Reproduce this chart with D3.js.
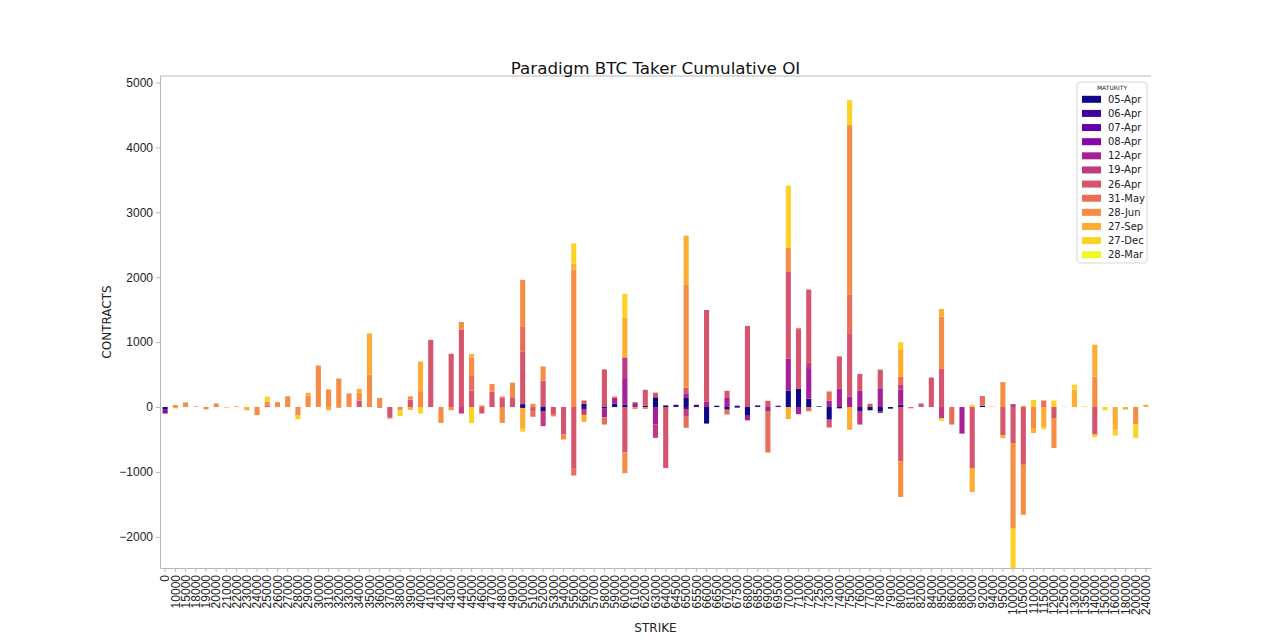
<!DOCTYPE html>
<html>
<head>
<meta charset="utf-8">
<script src="https://cdn.jsdelivr.net/npm/d3@7"></script>
<style>
  body { margin: 0; background: #fff; }
  svg { font-family: "DejaVu Sans", sans-serif; }
</style>
</head>
<body>
<div id="chart"></div>
<script>
// strikes on the x axis (categorical, as in the source plot)
const strikes = [0, 10000, 15000, 18000, 19000, 20000, 21000, 22000, 23000, 24000,
  25000, 26000, 27000, 28000, 29000, 30000, 31000, 32000, 33000, 34000,
  35000, 36000, 37000, 38000, 39000, 40000, 41000, 42000, 43000, 44000,
  45000, 46000, 47000, 48000, 49000, 50000, 51000, 52000, 53000, 54000,
  55000, 56000, 57000, 58000, 59000, 60000, 61000, 62000, 63000, 64000,
  64500, 65000, 65500, 66000, 66500, 67000, 67500, 68000, 68500, 69000,
  69500, 70000, 71000, 72000, 72500, 73000, 74000, 75000, 76000, 77000,
  78000, 79000, 80000, 81000, 82000, 84000, 85000, 86000, 88000, 90000,
  92000, 94000, 95000, 100000, 105000, 110000, 115000, 120000, 125000, 130000,
  135000, 140000, 150000, 160000, 180000, 200000, 240000];

const maturities = ["05-Apr", "06-Apr", "07-Apr", "08-Apr", "12-Apr", "19-Apr",
  "26-Apr", "31-May", "28-Jun", "27-Sep", "27-Dec", "28-Mar"];

const yTicks = [-2000, -1000, 0, 1000, 2000, 3000, 4000, 5000];

// contracts per maturity, one value per strike (10 per line)
const apr05 = [
  -40, 0, 0, 0, 0, 0, 0, 0, 0, 0,
  0, 0, 0, 0, 0, 0, 0, 0, 0, 0,
  0, 0, 0, 0, 0, 0, 0, 0, 0, 0,
  0, 0, 0, 0, 0, 45, 0, -70, 0, 0,
  0, 50, 0, -25, 50, 35, 0, 20, 150, 25,
  0, 140, 0, -255, 20, -40, 20, -135, 0, 0,
  0, 255, 280, 130, 10, -195, -20, 0, -60, -50,
  -65, -25, 35, 0, 0, 0, 0, 0, 0, 0,
  20, 0, 0, 0, 0, 0, 0, 0, 0, 0,
  0, 0, 0, 0, 0, 0, 0];
const apr06 = [
  0, 0, 0, 0, 0, 0, 0, 0, 0, 0,
  0, 0, 0, 0, 0, 0, 0, 0, 0, 0,
  0, 0, 0, 0, 0, 0, 0, 0, 0, 0,
  0, 0, 0, 0, 0, -15, 0, 0, 0, 0,
  0, -30, 0, 0, 0, 0, 0, 0, 0, 0,
  35, -30, 35, 0, 0, 0, -10, 0, 25, 0,
  0, 0, 0, 0, 0, 0, 0, 0, 0, 0,
  0, 0, 0, 0, 0, 0, 0, 0, 0, 0,
  0, 0, 0, 0, 0, 0, 0, 0, 0, 0,
  0, 0, 0, 0, 0, 0, 0];
const apr07 = [
  0, 0, 0, 0, 0, 0, 0, 0, 0, 0,
  0, 0, 0, 0, 0, 0, 0, 0, 0, 0,
  0, 0, 0, 0, 0, 0, 0, 0, 0, 0,
  0, 0, 0, 0, 0, 0, 0, 0, 0, 0,
  0, 0, 0, 0, 0, 0, 0, 0, 0, 0,
  0, 0, 0, 0, 0, 0, 0, 0, 0, 0,
  20, 0, 0, 0, 0, 0, 0, 0, 0, 0,
  0, 0, 0, 0, 0, 0, 0, 0, 0, 0,
  0, 0, 0, 0, 0, 0, 0, 0, 0, 0,
  0, 0, 0, 0, 0, 0, 0];
const apr08 = [
  -60, 0, 0, 0, 0, 0, 0, 0, 0, 0,
  0, 0, 0, 0, 0, 0, 0, 0, 0, 0,
  0, 0, 0, 0, 0, 0, 0, 0, 0, 0,
  0, 0, 0, 0, 0, 0, 0, 0, 0, 0,
  0, 0, 0, 0, 0, 0, 0, 0, 0, 0,
  0, 0, 0, 0, 0, 0, 0, 0, 0, 0,
  0, 0, 0, 0, 0, 0, 0, 0, 0, 0,
  -25, 0, 0, 0, 0, 0, 0, 0, 0, 0,
  0, 0, 0, 0, 0, 0, 0, 0, 0, 0,
  0, 0, 0, 0, 0, 0, 0];
const apr12 = [
  0, 0, 0, 0, 0, 0, 0, 0, 0, 0,
  0, 0, 0, 0, 0, 0, 0, 0, 0, 0,
  0, 0, 0, 0, 0, 0, 0, 0, 0, 0,
  0, 0, 0, 0, 0, 0, 0, 0, 0, 0,
  0, 0, 0, -135, 90, 410, 60, 0, -270, 0,
  0, 60, 0, 80, 0, 140, 0, -70, 0, -70,
  0, 490, -110, 470, 0, 100, 280, 164, 250, 0,
  290, 0, 230, 0, 0, 0, 0, 0, -410, 0,
  0, 0, 0, 0, 0, 0, 0, 0, 0, 0,
  0, 0, 0, 0, 0, 0, 0];
const apr19 = [
  0, 0, 0, 0, 0, 0, 0, 0, 0, 0,
  0, 0, 0, 0, 0, 0, 0, 0, 0, 0,
  0, 0, 0, 0, 0, 0, 0, 0, 0, -100,
  0, 0, 0, 0, 0, 0, 0, -225, 0, 0,
  0, -90, 0, 0, 0, 320, 0, 0, -205, 0,
  0, -120, 0, 0, 0, 0, 0, 0, 0, 0,
  0, 0, 0, 80, 0, 0, 0, 0, -210, 0,
  0, 0, 75, 0, 0, 0, -170, 0, 0, 0,
  0, 0, 0, 45, 0, 0, 0, 0, 0, 0,
  0, 0, 0, 0, 0, 0, 0];
const apr26 = [
  0, 0, 0, 0, 0, 0, 0, 0, 0, 0,
  20, 0, 0, 0, 0, 10, 0, 10, 0, 100,
  0, -10, -165, 0, 115, 0, 1035, 0, 820, 1190,
  255, -100, 235, 150, 150, 805, -70, 405, -120, -425,
  -940, 45, 0, 575, 0, -700, 15, 245, 65, -940,
  0, 100, 0, 1415, 0, 110, 0, 1250, 0, 95,
  0, 1345, 920, 1130, 0, -120, 500, 974, 260, 50,
  285, 0, -835, 0, 55, 455, 585, 0, 0, -940,
  0, 0, -435, -555, -890, 0, 0, -170, 0, 0,
  0, -425, 0, 0, 0, 0, 0];
const may31 = [
  0, 0, 0, 0, 0, 0, 0, 0, 0, 0,
  0, 0, 0, 0, 0, 0, 0, 0, 0, 0,
  0, 0, 0, 0, 0, 0, 0, 0, 0, 0,
  225, 0, 0, 0, 0, 395, -80, 0, 0, 0,
  -115, 0, 0, -110, 0, 0, 0, 0, 0, 0,
  0, -170, 0, 0, 0, -75, 0, 0, 0, -630,
  0, 0, 0, -65, 0, 140, 0, 590, 0, 0,
  0, 0, 130, -20, 0, 0, 0, -270, 0, 0,
  150, 0, 0, 0, 0, 0, 100, 0, 0, 0,
  0, 0, 0, 0, 0, 0, 0];
const jun28 = [
  0, 30, 70, 10, -35, 55, -8, 10, 0, -125,
  60, 75, 165, -130, 180, 630, 270, 430, 210, 120,
  500, 140, -15, -50, 50, 245, 0, -245, -50, 120,
  280, 25, 120, -245, 225, 715, 50, 220, -25, -75,
  2120, 10, 0, 10, 25, -320, -30, -30, 10, 0,
  0, 1580, 0, 0, 0, 0, 0, 0, 0, 0,
  0, 360, 20, 0, 0, 0, 0, 2616, 0, 0,
  0, 0, -550, 0, 0, 0, 810, 0, 0, 0,
  0, 5, 385, -1320, -770, -325, 0, -460, 0, 0,
  0, 470, 0, 0, 0, -260, 0];
const sep27 = [
  0, -20, 0, 0, 0, 0, 0, 0, -50, 0,
  0, 0, 0, 0, 40, 0, -50, -15, 0, 60,
  635, 0, 0, 0, -45, 455, 0, 0, 0, 0,
  55, 0, 0, 15, 0, -320, 0, 0, 0, 0,
  90, -110, 0, 0, 0, 615, 0, 0, 0, 0,
  0, 760, 0, 0, 0, 0, 0, 0, 0, 0,
  0, -185, 0, 0, 0, 0, 0, -350, 0, 0,
  0, 0, 410, 0, 0, 0, 115, 0, 0, -370,
  0, 0, -45, 0, 20, -75, -310, 0, 5, 265,
  0, 490, 0, -350, -40, 0, 35];
const dec27 = [
  0, 0, 0, 0, 0, 0, 0, 0, 0, 0,
  80, 0, 0, -60, 0, 0, 0, 0, 0, 0,
  0, 0, 0, -90, 0, -100, 0, 0, 0, 0,
  -245, 0, 0, 0, 0, -45, 0, 0, 0, 0,
  310, 0, 0, 0, 0, 365, 0, 0, 0, 0,
  0, 0, 0, 0, 0, 0, 0, 0, 0, 0,
  0, 960, 0, 0, 0, 0, 0, 384, 0, 0,
  0, 0, 120, 0, 0, 0, -40, 0, 0, 35,
  0, 0, 0, -700, 0, 110, -30, 100, 0, 80,
  10, -40, -50, -90, 0, -215, 0];
const mar28 = new Array(strikes.length).fill(0);

const seriesValues = [apr05, apr06, apr07, apr08, apr12, apr19,
  apr26, may31, jun28, sep27, dec27, mar28];

const width = 1280,
  height = 640,
  plotLeft = 160,
  plotRight = 1151,
  plotTop = 76,
  plotBottom = 568;

const axisGray = "#b8b8b8";

// one row per strike, one column per maturity
const rows = strikes.map((s, i) => {
  const row = { strike: String(s) };
  maturities.forEach((m, j) => { row[m] = seriesValues[j][i]; });
  return row;
});

// positives stack up from zero, negatives stack down (like pandas stacked bars)
const layers = d3.stack()
  .keys(maturities)
  .offset(d3.stackOffsetDiverging)(rows);

const x = d3.scaleBand()
  .domain(strikes.map(String))
  .range([plotLeft, plotRight])
  .paddingInner(0.5)
  .paddingOuter(0.25);

const y = d3.scaleLinear()
  .domain([-2480, 5100])
  .range([plotBottom, plotTop]);

const color = i => d3.interpolatePlasma(i / (maturities.length - 1));

const svg = d3.select("#chart").append("svg")
  .attr("width", width)
  .attr("height", height);

svg.append("clipPath").attr("id", "plot-clip")
  .append("rect")
  .attr("x", plotLeft).attr("y", plotTop)
  .attr("width", plotRight - plotLeft).attr("height", plotBottom - plotTop);

const bars = svg.append("g").attr("clip-path", "url(#plot-clip)");

bars.selectAll(".layer")
  .data(layers)
  .enter().append("g")
  .attr("class", "layer")
  .attr("fill", (d, i) => color(i))
  .selectAll("rect")
  .data(d => d)
  .enter().append("rect")
  .attr("x", d => x(d.data.strike))
  .attr("width", x.bandwidth())
  .attr("y", d => y(Math.max(d[0], d[1])))
  .attr("height", d => Math.abs(y(d[0]) - y(d[1])));

// y axis, plain integers with a real minus sign
const yAxis = svg.append("g")
  .attr("transform", `translate(${plotLeft},0)`)
  .call(d3.axisLeft(y)
    .tickValues(yTicks)
    .tickFormat(d3.format("d"))
    .tickSize(4)
    .tickSizeOuter(0)
    .tickPadding(3));
yAxis.selectAll("text").attr("font-size", 12).attr("fill", "#222");

// x axis with vertical strike labels
const xAxis = svg.append("g")
  .attr("transform", `translate(0,${plotBottom})`)
  .call(d3.axisBottom(x).tickSize(4).tickSizeOuter(0));
xAxis.selectAll("text")
  .attr("transform", "rotate(-90)")
  .attr("text-anchor", "end")
  .attr("x", -7)
  .attr("y", 0)
  .attr("dy", "0.35em")
  .attr("font-size", 12)
  .attr("fill", "#222");

svg.selectAll(".domain, .tick line").attr("stroke", axisGray);

// top spine
svg.append("line")
  .attr("x1", plotLeft).attr("x2", plotRight)
  .attr("y1", plotTop).attr("y2", plotTop)
  .attr("stroke", axisGray);

svg.append("text")
  .attr("x", (plotLeft + plotRight) / 2)
  .attr("y", 74)
  .attr("text-anchor", "middle")
  .attr("font-size", 16.7)
  .attr("fill", "#111")
  .text("Paradigm BTC Taker Cumulative OI");

svg.append("text")
  .attr("x", (plotLeft + plotRight) / 2)
  .attr("y", 632)
  .attr("text-anchor", "middle")
  .attr("font-size", 12)
  .attr("fill", "#222")
  .text("STRIKE");

svg.append("text")
  .attr("transform", `translate(111,${(plotTop + plotBottom) / 2}) rotate(-90)`)
  .attr("text-anchor", "middle")
  .attr("font-size", 12)
  .attr("fill", "#222")
  .text("CONTRACTS");

// legend
const legend = svg.append("g").attr("transform", "translate(1077,82)");

legend.append("rect")
  .attr("width", 70)
  .attr("height", 181)
  .attr("rx", 3)
  .attr("fill", "#fff")
  .attr("fill-opacity", 0.8)
  .attr("stroke", "#d8d8d8");

legend.append("text")
  .attr("x", 35)
  .attr("y", 8)
  .attr("text-anchor", "middle")
  .attr("font-size", 6)
  .attr("fill", "#222")
  .text("MATURITY");

const item = legend.selectAll(".item")
  .data(maturities)
  .enter().append("g")
  .attr("class", "item")
  .attr("transform", (d, i) => `translate(0,${17.3 + i * 14.13})`);

item.append("rect")
  .attr("x", 5)
  .attr("y", -3.5)
  .attr("width", 19)
  .attr("height", 7)
  .attr("fill", (d, i) => color(i));

item.append("text")
  .attr("x", 31)
  .attr("dy", "0.35em")
  .attr("font-size", 10)
  .attr("fill", "#222")
  .text(d => d);
</script>
</body>
</html>
